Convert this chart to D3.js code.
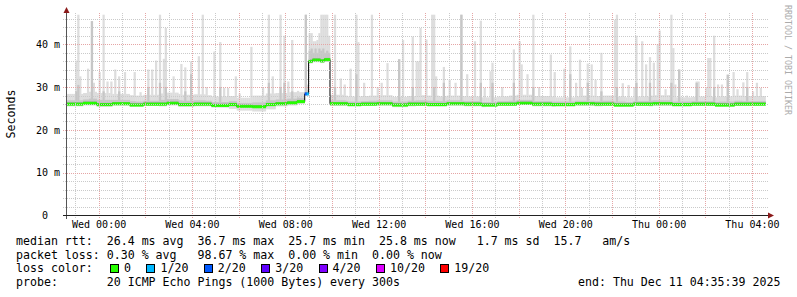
<!DOCTYPE html>
<html>
<head>
<meta charset="utf-8">
<script src="https://cdn.jsdelivr.net/npm/d3@7/dist/d3.min.js"></script>
<style>
body{margin:0;background:#fff;}
svg{display:block;}
text{font-family:"DejaVu Sans Mono",monospace;white-space:pre;fill:#000;}
</style>
</head>
<body>
<div id="chart"></div>
<script>
// smokeping latency graph, 30 hours of 5 minute steps ending at end_time
const end_time = "2025-12-11T04:35:39Z";
const n_steps = 360;

// median rtt in ms: [first step, value], held until the next run
const median_runs = [
  [0,26.0],[9,26.2],[16,25.9],[24,26.1],[33,25.8],[40,26.0],[52,26.2],[58,25.9],[66,26.0],
  [75,25.7],[84,25.9],[88,25.5],[96,25.4],[103,25.9],[108,26.1],[114,26.3],[119,26.6],
  [123,28.4],[125,36.0],[127,36.3],[131,36.1],[133,36.4],[136,26.1],[145,25.9],[152,26.0],
  [160,26.1],[168,25.8],[176,26.0],[186,25.9],[196,26.1],[205,26.0],[214,25.8],[222,26.0],
  [232,26.2],[240,26.0],[250,25.9],[262,26.1],[272,26.0],[282,25.8],[292,26.0],[302,26.1],
  [312,25.9],[322,26.0],[334,25.8],[344,26.0]
];

// steps with packet loss: [step, loss class]
const loss_points = [[123,2],[124,1]];

// smoke spread around the median per hour (ms)
const smoke_light_above = [2.4,2.7,2.3,2.2,2.5,2.3,2.1,2.0,2.6,2.5,2.2,2.1,1.9,2.0,1.9,2.1,1.9,1.8,1.8,2.0,1.9,1.7,1.9,2.0,1.8,2.0,1.7,1.8,2.0,1.9];
const smoke_mid_above = [0.9,1.1,0.9,0.8,1.0,0.9,0.8,0.8,1.0,1.0,0.9,0.8,0.7,0.8,0.8,0.9,0.8,0.7,0.7,0.8,0.7,0.7,0.7,0.8,0.7,0.8,0.7,0.7,0.8,0.7];
const smoke_below = [0.5,0.5,0.4,0.4,0.5,0.5,0.5,1.0,1.1,0.6,0.5,0.5,0.4,0.4,0.5,0.4,0.4,0.5,0.4,0.4,0.5,0.4,0.5,0.4,0.4,0.5,0.4,0.4,0.4,0.4];

// slowest pings per step: [step, max ms, darker part ms]
const spikes = [
  [5,36.2,29],[6,46.9,30.5],[7,32.5],[11,34.3],[13,45.4,45.4],[14,31],[17,33.5],[19,46.9,29],[21,31.3],[23,31.3],
  [25,34.1],[27,32.5,29],[30,33.5],[35,33.5],[38,28.8],[42,34.1,30],[44,34.1],[46,36.2],[48,46.9,31],[50,36.6],
  [51,43.8,30],[55,32.5],[59,35.4],[61,34.6,29],[64,36.0,33],[68,37.2],[70,46.9],[72,30],[76,38.3],[79,40.5,30],
  [81,29.8],[83,29.8],[87,32.5],[89,28.5],[95,39.4],[101,29.8],[104,46.9,31],[106,32.5],[110,46.9,30],[112,42,31],
  [114,31.3],[116,41,29],[123,46.9,46.9],
  [125,42.6,38.5],[126,42.6,39],[127,40.7,38],[128,40.7,39],[129,41,38],[130,42.6,39],[131,46.9,38.5],
  [132,46.9,39],[133,46.9,38],[134,46.9,38.5],[135,42,38],
  [138,46.9,30],[141,32],[143,30.6],[146,34.3],[149,46.9,33],[150,40.5],[153,31],[157,46.9],[160,30],[162,31],
  [165,35.6],[171,36.5,36.5],[173,41],[178,41.8,30],[180,36],[181,36],[182,43.8],[185,41.1],[188,46.9],[189,46.9,30],
  [190,32.5],[194,34.7,31],[197,31.7],[200,31],[203,46.9,46.9],[206,33],[210,40.7],[213,45.5,31],[215,29.8],[218,33.7],
  [219,35.7,31],[224,30],[230,38.8,31],[233,40.7],[234,35.3],[237,33],[240,46.9,30],[243,30],[249,37.6],[251,33.5],
  [256,34.3],[259,39.5,33],[262,31],[264,36.4],[265,29.8],[268,35.5,31],[270,35.3],[272,31.7],[275,38,29],[278,28],
  [282,45.7],[283,46.9,30],[286,30.9],[289,30.5],[292,30],[293,42,31],[296,40.7],[298,35.3],[300,37,31],[302,35.7],
  [304,40],[305,43.2],[308,29.5],[311,46.9,31],[312,39.1],[313,30.6],[315,34.1,34.1],[319,28],[324,31.3,31],[325,31.3],
  [329,30],[330,36.8],[331,36.8],[333,42,30],[335,30.6],[337,30.6],[340,32.9,32.9],[343,33.5],[345,29.5],[348,31.1],
  [350,33.5,30],[353,29],[355,31],[357,29.8]
];

const loss_labels = ["0","1/20","2/20","3/20","4/20","10/20","19/20"];
const loss_colors = ["#26ff00","#00b8ff","#0059ff","#5e00ff","#7e00ff","#dd00ff","#ff0000"];

const y_ticks = [0,10,20,30,40];

const stat_lines = [
  "median rtt:  26.4 ms avg  36.7 ms max  25.7 ms min  25.8 ms now   1.7 ms sd  15.7   am/s",
  "packet loss: 0.30 % avg   98.67 % max  0.00 % min  0.00 % now",
  "loss color:",
  "probe:       20 ICMP Echo Pings (1000 Bytes) every 300s"
];
const end_label = "end: Thu Dec 11 04:35:39 2025";

function init(){
    const W = 797, H = 297;
    const svg = d3.select("#chart").append("svg")
        .attr("width", W)
        .attr("height", H);

    const end = new Date(end_time);
    const start = new Date(end - 30*3600*1000);
    const x = d3.scaleUtc().domain([start, end]).range([65.8, 765.8]);
    const y = d3.scaleLinear().domain([0, 46.95]).range([215.5, 14.5]);

    // steps start on the 5 minute boundary
    const first = d3.utcMinute.every(5).floor(start);
    const spike_map = new Map(spikes.map(s => [s[0], s]));
    const loss_map = new Map(loss_points);
    const steps = [];
    let r = 0;
    for (let i = 0; i < n_steps; i++) {
        while (r + 1 < median_runs.length && median_runs[r+1][0] <= i) r++;
        const h = Math.min(Math.floor(i/12), smoke_below.length - 1);
        const med = median_runs[r][1];
        const sp = spike_map.get(i);
        steps.push({
            t0: new Date(+first + i*300000),
            t1: new Date(+first + (i+1)*300000),
            med: med,
            lo: med - smoke_below[h],
            hi: Math.max(med + smoke_light_above[h], sp ? sp[1] : 0),
            mid: Math.max(med + smoke_mid_above[h], sp && sp[2] ? sp[2] : 0),
            loss: loss_map.get(i) || 0
        });
    }

    svg.append("clipPath").attr("id", "plot")
        .append("rect").attr("x", 66).attr("y", 13).attr("width", 700).attr("height", 202);

    const data = svg.append("g").attr("clip-path", "url(#plot)");

    // smoke
    data.selectAll(null).data(steps).enter().append("rect")
        .attr("x", d => x(d.t0))
        .attr("width", d => x(d.t1) - x(d.t0) + 0.3)
        .attr("y", d => y(d.hi))
        .attr("height", d => y(d.lo) - y(d.hi))
        .attr("fill", "#dddddd");
    data.selectAll(null).data(steps).enter().append("rect")
        .attr("x", d => x(d.t0))
        .attr("width", d => x(d.t1) - x(d.t0) + 0.3)
        .attr("y", d => y(d.mid))
        .attr("height", d => y(d.med - 0.2) - y(d.mid))
        .attr("fill", "#c6c6c6");
    data.selectAll(null).data(steps).enter().append("rect")
        .attr("x", d => x(d.t0))
        .attr("width", d => x(d.t1) - x(d.t0) + 0.3)
        .attr("y", d => y(d.med + 0.4))
        .attr("height", d => y(d.med) - y(d.med + 0.4))
        .attr("fill", "#999999");

    // grid
    const grid = svg.append("g").attr("stroke-dasharray", "1,1").attr("stroke-width", 1);
    const hours = x.ticks(d3.utcHour.every(1));
    grid.selectAll(null).data(hours).enter().append("line")
        .attr("x1", d => Math.round(x(d)) + 0.5)
        .attr("x2", d => Math.round(x(d)) + 0.5)
        .attr("y1", 218).attr("y2", 13)
        .attr("stroke", d => d.getUTCHours() % 2 ? "#cacaca" : "#e5a5a5");
    const y_minor = d3.range(2, 47, 2);
    grid.selectAll(null).data(y_minor).enter().append("line")
        .attr("x1", 63).attr("x2", 768)
        .attr("y1", d => Math.round(y(d)) + 0.5)
        .attr("y2", d => Math.round(y(d)) + 0.5)
        .attr("stroke", d => d % 10 ? "#cacaca" : "#e5a5a5");

    // median line and loss colour
    const line = d3.line()
        .x(d => x(d.t))
        .y(d => y(d.v))
        .curve(d3.curveStepAfter);
    const pts = steps.map(d => ({t: d.t0, v: d.med}));
    pts.push({t: steps[steps.length-1].t1, v: steps[steps.length-1].med});
    data.append("path")
        .attr("d", line(pts))
        .attr("fill", "none")
        .attr("stroke", "#000")
        .attr("stroke-width", 1);
    data.selectAll(null).data(steps).enter().append("rect")
        .attr("x", d => x(d.t0))
        .attr("width", d => x(d.t1) - x(d.t0) + 0.2)
        .attr("y", d => y(d.med) - 1.5)
        .attr("height", 3)
        .attr("fill", d => loss_colors[d.loss]);

    // axes
    svg.append("line").attr("x1", 66.5).attr("x2", 66.5).attr("y1", 219).attr("y2", 12)
        .attr("stroke", "#555");
    svg.append("line").attr("x1", 63).attr("x2", 770).attr("y1", 215.5).attr("y2", 215.5)
        .attr("stroke", "#222");
    svg.append("path").attr("d", "M63.5,13 L66.5,7 L69.5,13 Z").attr("fill", "#8b1a1a");
    svg.append("path").attr("d", "M768,212.5 L774,215.5 L768,218.5 Z").attr("fill", "#8b1a1a");

    const xa = svg.append("g")
        .attr("transform", "translate(0,215)")
        .call(d3.axisBottom(x)
            .ticks(d3.utcHour.every(4))
            .tickFormat(d3.utcFormat("%a %H:%M"))
            .tickSize(0)
            .tickPadding(6));
    xa.select(".domain").remove();
    xa.selectAll("text").style("font-family", "DejaVu Sans Mono").style("font-size", "10px").attr("fill", "#000");

    const ya = svg.append("g")
        .attr("transform", "translate(66.5,0)")
        .call(d3.axisLeft(y)
            .tickValues(y_ticks)
            .tickFormat(d => d === 0 ? "0  " : d + " m")
            .tickSize(0)
            .tickPadding(6.5));
    ya.select(".domain").remove();
    ya.selectAll("text").style("font-family", "DejaVu Sans Mono").style("font-size", "10px").attr("fill", "#000");

    svg.append("text")
        .attr("transform", "translate(15,114) rotate(-90)")
        .attr("text-anchor", "middle")
        .style("font-size", "11.6px")
        .text("Seconds");

    svg.append("text")
        .attr("transform", "translate(784.5,5) rotate(90)")
        .style("font-size", "8.3px")
        .style("fill", "#ababab")
        .text("RRDTOOL / TOBI OETIKER");

    // legend
    const rows = [245, 258.7, 272.3, 286];
    svg.selectAll(null).data(stat_lines).enter().append("text")
        .attr("x", 16)
        .attr("y", (d, i) => rows[i])
        .style("font-size", "11.6px")
        .text(d => d);

    let lx = 124;
    const leg = [];
    loss_labels.forEach((l, i) => {
        leg.push({label: l, color: loss_colors[i], x: lx});
        lx += (l.length) * 6.97 + 29.5;
    });
    svg.selectAll(null).data(leg).enter().append("rect")
        .attr("x", d => Math.round(d.x - 14) + 0.5)
        .attr("y", 264.5)
        .attr("width", 8).attr("height", 8)
        .attr("fill", d => d.color)
        .attr("stroke", "#000");
    svg.selectAll(null).data(leg).enter().append("text")
        .attr("x", d => d.x)
        .attr("y", rows[2])
        .style("font-size", "11.6px")
        .text(d => d.label);

    svg.append("text")
        .attr("x", 578)
        .attr("y", rows[3])
        .style("font-size", "11.6px")
        .text(end_label);
}

init();
</script>
</body>
</html>
